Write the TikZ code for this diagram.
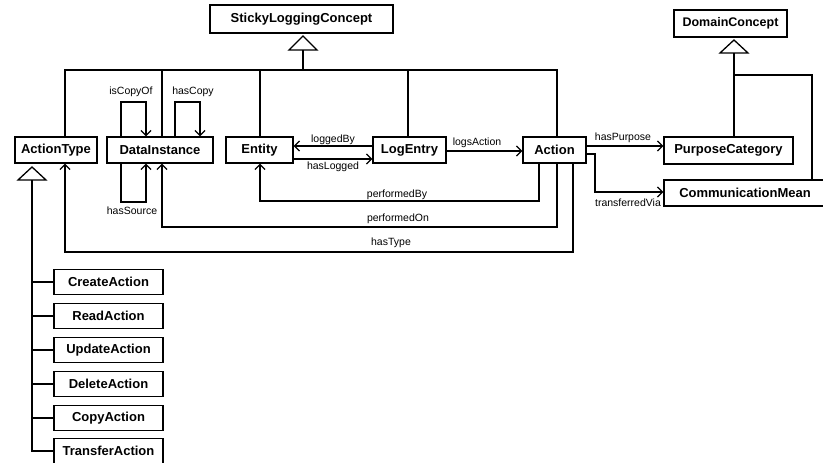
\documentclass[tikz,border=0pt]{standalone}
\usepackage{fontspec}
\setmainfont{Liberation Sans}
\usetikzlibrary{arrows.meta}

\tikzset{
  cls/.style={draw, line width=1.3pt, fill=white, inner sep=0pt,
    minimum height=26pt, font=\bfseries\fontsize{13}{15}\selectfont},
  sub/.style={cls, minimum width=109pt, minimum height=25pt},
  rel/.style={font=\fontsize{10.5}{12}\selectfont, inner sep=0pt},
  wire/.style={line width=1.3pt},
  assoc/.style={wire, -{Straight Barb[length=5pt,width=10pt,line width=1.3pt]}},
  gen/.style={line width=1.3pt, fill=white, line join=miter}
}

\begin{document}
\begin{tikzpicture}[x=1pt, y=-1pt]
  \useasboundingbox (0,0) rectangle (823,463);
  \clip (0,0) rectangle (823,463);

  % classes
  \node[cls, minimum width=183pt, minimum height=28pt] (sticky) at (301.5,19) {StickyLoggingConcept};
  \node[cls, minimum width=113pt, minimum height=27pt, font=\bfseries\fontsize{12.5}{14}\selectfont] (domain) at (730.5,23.5) {DomainConcept};
  \node[cls, minimum width=82pt]  (atype)  at (56,150)    {ActionType};
  \node[cls, minimum width=106pt] (data)   at (160,150)   {DataInstance};
  \node[cls, minimum width=67pt]  (entity) at (259.5,150) {Entity};
  \node[cls, minimum width=73pt]  (log)    at (409.5,150) {LogEntry};
  \node[cls, minimum width=63pt]  (action) at (554.5,150) {Action};
  \node[cls, minimum width=129pt, minimum height=27pt] (purpose) at (728.5,150.5) {PurposeCategory};
  \node[cls, minimum width=162pt] (comm)   at (745,193)   {CommunicationMean};

  \node[sub] (create)   at (108.5,282) {CreateAction};
  \node[sub] (read)     at (108.5,316) {ReadAction};
  \node[sub] (update)   at (108.5,350) {UpdateAction};
  \node[sub] (delete)   at (108.5,384) {DeleteAction};
  \node[sub] (copy)     at (108.5,418) {CopyAction};
  \node[sub] (transfer) at (108.5,451) {TransferAction};

  % generalisation to StickyLoggingConcept
  \coordinate (sBase) at (303,50);
  \draw[gen] (303,36) -- (317,50) -- (289,50) -- cycle;
  \coordinate (cAT) at (65,70);
  \coordinate (cDI) at (162,70);
  \coordinate (cEN) at (260,70);
  \coordinate (cLE) at (408,70);
  \coordinate (cAC) at (557,70);
  \draw[wire] (sBase) -- (sBase |- cAT);
  \draw[wire] (atype.north -| cAT) -- (cAT) -- (cAC) -- (action.north -| cAC);
  \draw[wire] (cDI) -- (data.north -| cDI);
  \draw[wire] (cEN) -- (entity.north -| cEN);
  \draw[wire] (cLE) -- (log.north -| cLE);

  % generalisation to DomainConcept
  \coordinate (dBase) at (734,53);
  \coordinate (dSplit) at (734,75);
  \coordinate (dRight) at (812,75);
  \draw[gen] (734,40) -- (748,53) -- (720,53) -- cycle;
  \draw[wire] (dBase) -- (purpose.north -| dBase);
  \draw[wire] (dSplit) -- (dRight) -- (comm.north -| dRight);

  % generalisation to ActionType
  \coordinate (aBase) at (32,180);
  \draw[gen] (32,167) -- (46,180) -- (18,180) -- cycle;
  \draw[wire] (aBase) -- (aBase |- transfer.west) -- (transfer.west);
  \foreach \n in {create,read,update,delete,copy}
    \draw[wire] (aBase |- \n.west) -- (\n.west);

  % self associations of DataInstance
  \draw[assoc] (data.north -| 121,0) -- (121,102) -- (146,102) -- (data.north -| 146,0);
  \node[rel] (lCopyOf) at (131,92) {isCopyOf};
  \draw[assoc] (data.north -| 175,0) -- (175,102) -- (200,102) -- (data.north -| 200,0);
  \node[rel] (lCopy) at (193,92) {hasCopy};
  \draw[assoc] (data.south -| 121,0) -- (121,202) -- (146,202) -- (data.south -| 146,0);
  \node[rel] (lSource) at (132,211) {hasSource};

  % Entity / LogEntry
  \draw[assoc] (log.west |- 0,146) -- (entity.east |- 0,146);
  \node[rel] (lLoggedBy) at (333,140) {loggedBy};
  \draw[assoc] (entity.east |- 0,159) -- (log.west |- 0,159);
  \node[rel] (lHasLogged) at (333,167) {hasLogged};

  % LogEntry -> Action
  \draw[assoc] (log.east |- 0,151) -- (action.west |- 0,151);
  \node[rel] (lLogs) at (477,143) {logsAction};

  % Action -> PurposeCategory / CommunicationMean
  \draw[assoc] (action.east |- 0,146) -- (purpose.west |- 0,146);
  \node[rel] (lPurpose) at (623,138) {hasPurpose};
  \draw[assoc] (action.east |- 0,154) -- (595,154) -- (595,192) -- (comm.west |- 0,192);
  \node[rel] (lVia) at (628,203) {transferredVia};

  % Action -> Entity / DataInstance / ActionType
  \draw[assoc] (action.south -| 539,0) -- (539,201) -- (260,201) -- (entity.south -| 260,0);
  \node[rel] (lPerfBy) at (397,195) {performedBy};
  \draw[assoc] (action.south -| 557,0) -- (557,227) -- (162,227) -- (data.south -| 162,0);
  \node[rel] (lPerfOn) at (398,219) {performedOn};
  \draw[assoc] (action.south -| 573,0) -- (573,252) -- (65,252) -- (atype.south -| 65,0);
  \node[rel] (lType) at (391,243) {hasType};
\end{tikzpicture}
\end{document}
